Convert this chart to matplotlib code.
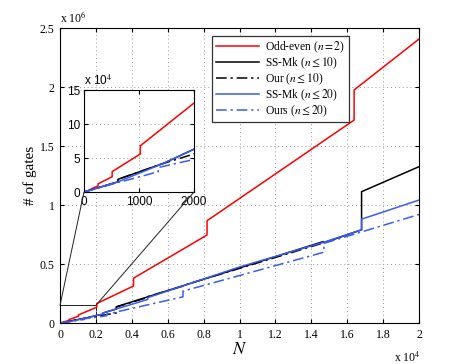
import numpy as np
import matplotlib
matplotlib.use('Agg')
import matplotlib.pyplot as plt
from matplotlib.patches import Rectangle, ConnectionPatch

# values (N, number of gates); repeated N = vertical jump
oe_n = [0, 128, 128, 256, 256, 512, 512, 1024, 1024, 2048, 2048, 4096, 4096,
        8192, 8192, 16384, 16384, 20000]
oe_g = [0, 3.5e3, 4.5e3, 9e3, 1.2e4, 2.25e4, 3.0e4, 5.6e4, 6.8e4, 1.34e5, 1.65e5,
        3.14e5, 3.8e5, 7.46e5, 8.67e5, 1.72e6, 1.975e6, 2.407e6]

ss10_n = [0, 618, 618, 1440, 2000, 2400, 2400, 3140, 3140, 14660, 14700, 16800,
          16800, 20000]
ss10_g = [0, 1.5e4, 1.87e4, 4.2e4, 6.3e4, 7.5e4, 8.5e4, 1.19e5, 1.38e5, 6.9e5,
          6.8e5, 7.9e5, 1.113e6, 1.325e6]

our10_n = [0, 618, 618, 1440, 2000, 3140, 3140, 4900, 4900, 6900, 6900, 14700]
our10_g = [0, 1.5e4, 1.87e4, 4.2e4, 5.6e4, 8.5e4, 1.35e5, 2.18e5, 2.24e5, 3.15e5,
           3.2e5, 6.8e5]

ss20_n = [0, 618, 1440, 2000, 2400, 2400, 4890, 4890, 10000, 14700, 16800, 16800,
          20000]
ss20_g = [0, 1.5e4, 4.2e4, 6.3e4, 7.5e4, 8.5e4, 2.0e5, 2.15e5, 4.75e5, 6.85e5,
          7.9e5, 8.8e5, 1.042e6]

ours20_n = [0, 600, 1350, 1350, 2000, 2600, 2600, 6850, 6850, 14700, 14700, 20000]
ours20_g = [0, 1.35e4, 2.98e4, 3.6e4, 4.8e4, 6.2e4, 7.5e4, 2.22e5, 2.7e5, 6.0e5,
            6.75e5, 9.2e5]

labels = ['Odd-even ($n = 2$)', r'SS-Mk ($n \leq 10$)', r'Our ($n \leq 10$)',
          r'SS-Mk ($n \leq 20$)', r'Ours ($n \leq 20$)']

blue = '#3b5bf5'
dashdot = (0, (7, 2.5, 1.5, 2.5))

plt.rcParams['font.family'] = 'Liberation Serif'
plt.rcParams['mathtext.fontset'] = 'stix'

fig = plt.figure(figsize=(4.63, 3.64), dpi=100)
ax = fig.add_axes([0.1296, 0.1126, 0.7754, 0.8104])


def draw(a):
    a.plot(oe_n, oe_g, color='red', lw=1.1, label=labels[0])
    a.plot(ss10_n, ss10_g, color='black', lw=1.1, label=labels[1])
    a.plot(our10_n, our10_g, color='black', lw=1.1, ls=dashdot, label=labels[2])
    a.plot(ss20_n, ss20_g, color=blue, lw=1.1, label=labels[3])
    a.plot(ours20_n, ours20_g, color=blue, lw=1.1, ls=dashdot, label=labels[4])


draw(ax)
ax.set_xlim(0, 20000)
ax.set_ylim(0, 2.5e6)
xt = np.arange(0, 20001, 2000)
ax.set_xticks(xt)
ax.set_xticklabels(['0', '0.2', '0.4', '0.6', '0.8', '1', '1.2', '1.4', '1.6', '1.8', '2'])
yt = np.arange(0, 2.5e6 + 1, 5e5)
ax.set_yticks(yt)
ax.set_yticklabels(['0', '0.5', '1', '1.5', '2', '2.5'])
ax.tick_params(direction='in', top=True, right=True, labelsize=8.5, length=3, pad=4)
ax.grid(True, ls=(0, (1, 3)), color='#999999', lw=0.7)
ax.set_xlabel('$N$', fontsize=13, labelpad=0)
ax.set_ylabel('# of gates', fontsize=11, labelpad=2)
ax.text(0, 1.01, r'x 10$^6$', transform=ax.transAxes, fontsize=8.5, va='bottom')
ax.text(0.93, -0.095, r'x 10$^4$', transform=ax.transAxes, fontsize=8.5, va='top')

leg = ax.legend(loc='upper right', bbox_to_anchor=(0.82, 0.993), fontsize=8.3,
                fancybox=False, framealpha=1, edgecolor='#333333',
                handlelength=3.8, labelspacing=0.05, borderpad=0.3, handletextpad=0.5)
leg.get_frame().set_linewidth(0.9)

# zoomed region
ax.add_patch(Rectangle((0, 0), 2000, 1.5e5, fill=False, ec='#222222', lw=0.7))

ins = fig.add_axes([0.1814, 0.4725, 0.2376, 0.280])
draw(ins)
ins.set_xlim(0, 2000)
ins.set_ylim(0, 1.5e5)
ins.set_xticks([0, 1000, 2000])
ins.set_xticklabels(['0', '1000', '2000'])
ins.set_yticks([0, 5e4, 1e5, 1.5e5])
ins.set_yticklabels(['0', '5', '10', '15'])
ins.tick_params(direction='in', top=True, right=True, labelsize=8.5, length=3, pad=3)
for t in ins.get_xticklabels() + ins.get_yticklabels():
    t.set_family('Liberation Sans')
ins.grid(True, ls=(0, (1, 3)), color='#999999', lw=0.7)
ins.text(0, 1.02, r'x 10$^4$', transform=ins.transAxes, fontsize=8.5, va='bottom',
         family='Liberation Sans')

for xa, xb in [(0, 0), (1, 2000)]:
    con = ConnectionPatch(xyA=(xa, 0), coordsA=ins.transAxes, xyB=(xb, 1.5e5),
                          coordsB=ax.transData, color='#222222', lw=0.7)
    fig.add_artist(con)

fig.savefig('out.png', dpi=100)
